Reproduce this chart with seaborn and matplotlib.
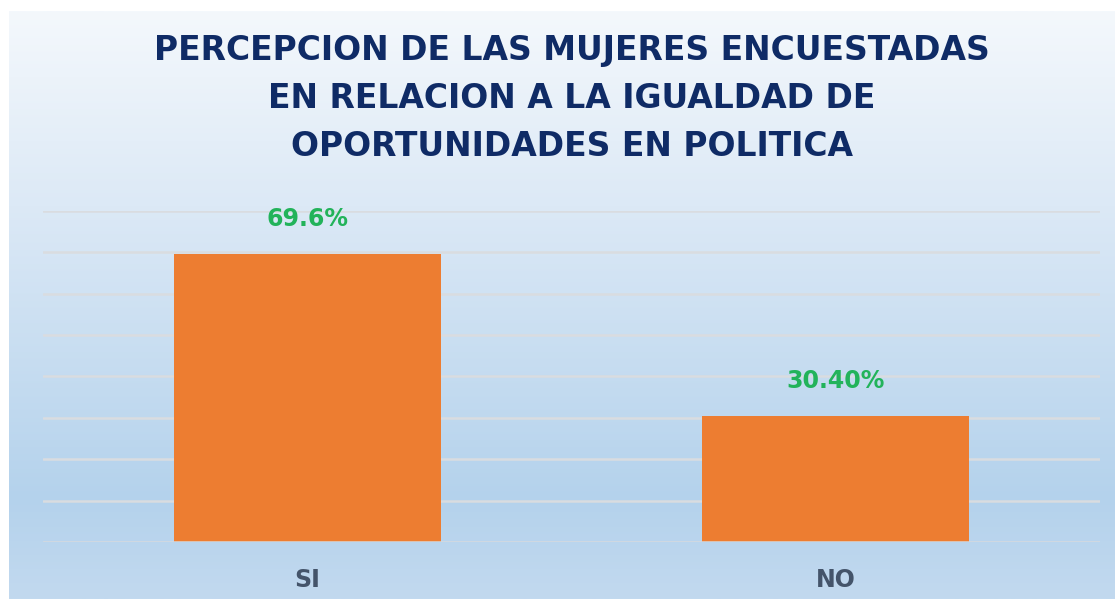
import matplotlib
matplotlib.use("Agg")
import matplotlib.pyplot as plt
from matplotlib.colors import LinearSegmentedColormap
import numpy as np
import pandas as pd
import seaborn as sns

# ---- data ----
categories = ["SI", "NO"]
values = [0.696, 0.304]
value_labels = ["69.6%", "30.40%"]
title_lines = ["PERCEPCION DE LAS MUJERES ENCUESTADAS",
               "EN RELACION A LA IGUALDAD DE",
               "OPORTUNIDADES EN POLITICA"]
grid_ticks = [0.1, 0.2, 0.3, 0.4, 0.5, 0.6, 0.7, 0.8]

sns.set_theme(style="white")
plt.rcParams['font.family'] = ['DejaVu Sans']

W, H = 1115, 599
fig = plt.figure(figsize=(W / 100, H / 100), dpi=100)
fig.patch.set_facecolor("white")

# gradient background panel
bg = fig.add_axes([9 / W, 0, 1 - 9 / W, 1 - 11 / H])
cmap = LinearSegmentedColormap.from_list(
    "bg", [(0.0, "#F4F8FC"), (0.33, "#DCE9F6"), (0.83, "#B4D2EC"), (1.0, "#C2D9EF")])
grad = np.linspace(0, 1, 256).reshape(-1, 1)
bg.imshow(grad, aspect="auto", cmap=cmap, extent=[0, 1, 1, 0])
bg.set_axis_off()

# main axes
left, right = 43 / W, 1100 / W
bottom, top = 1 - 542 / H, 1 - 211 / H
ax = fig.add_axes([left, bottom, right - left, top - bottom])
ax.patch.set_alpha(0)

df = pd.DataFrame({"cat": categories, "val": values})
for g in grid_ticks:
    ax.axhline(g, color="#D9DCE0", lw=1.8, zorder=0)
ax.axhline(0, color="#D6D9DE", lw=1.8, zorder=3)

sns.barplot(data=df, x="cat", y="val", color="#ED7D31", width=0.505,
            saturation=1, linewidth=0, ax=ax, zorder=2)

ax.set_ylim(0, 0.8)
ax.set_xlim(-0.5, 1.5)
for s in ax.spines.values():
    s.set_visible(False)
ax.set_yticks([])
ax.set_xlabel("")
ax.set_ylabel("")
ax.tick_params(axis="x", length=0, pad=19)
for lbl in ax.get_xticklabels():
    lbl.set_fontsize(17)
    lbl.set_fontweight("bold")
    lbl.set_color("#44546A")

for i, (v, t) in enumerate(zip(values, value_labels)):
    ax.annotate(t, xy=(i, v), xytext=(0, 25), textcoords="offset points",
                ha="center", va="center", fontsize=17, fontweight="bold",
                color="#22B35A", zorder=5)

fig.text(572 / W, 1 - 98.5 / H, "\n".join(title_lines), ha="center", va="center",
         fontsize=23.8, fontweight="bold", color="#0F2B66", linespacing=1.58)

fig.savefig("out.png", dpi=100)
